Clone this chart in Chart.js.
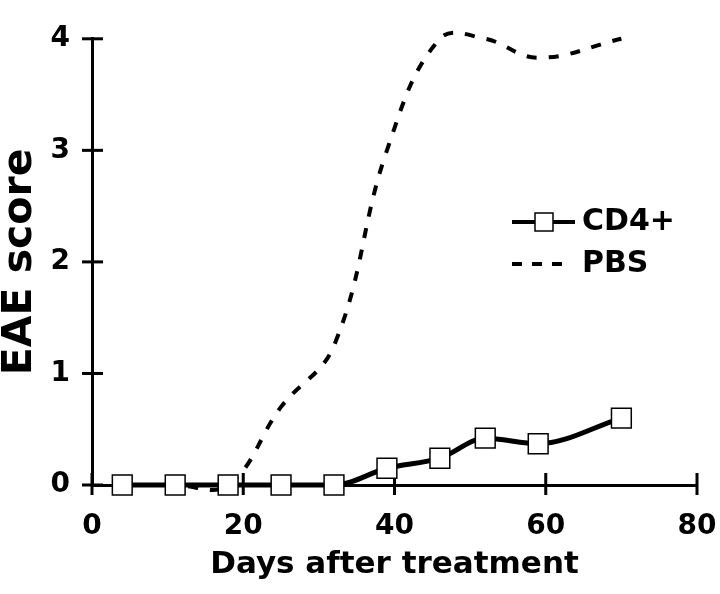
<!DOCTYPE html>
<html>
<head>
<meta charset="utf-8">
<script src="https://cdn.jsdelivr.net/npm/chart.js"></script>
<style>
  body { margin: 0; background: #fff; }
</style>
</head>
<body>
<canvas id="myChart" width="720" height="594"></canvas>
<script>
// days after treatment
const days = [4, 11, 18, 25, 32, 39, 46, 52, 59, 70];
const cd4 = [0, 0, 0, 0, 0, 0.15, 0.24, 0.42, 0.37, 0.6];
const pbs = [0, 0, 0, 0.7, 1.25, 3.0, 4.0, 4.0, 3.83, 4.0];
const xTicks = [0, 20, 40, 60, 80];
const yTicks = [0, 1, 2, 3, 4];

const FONT = "'DejaVu Sans', 'Liberation Sans', Arial, sans-serif";

// ticks that cross the axis line on both sides
const crossTicks = {
    id: 'crossTicks',
    beforeDatasetsDraw(chart) {
        const c = chart.ctx;
        const xs = chart.scales.x, ys = chart.scales.y;
        c.save();
        c.strokeStyle = '#000';
        c.lineWidth = 3;
        yTicks.forEach(v => {
            const py = ys.getPixelForValue(v);
            c.beginPath();
            c.moveTo(xs.left - 10, py);
            c.lineTo(xs.left + 11, py);
            c.stroke();
        });
        xTicks.forEach(v => {
            const px = xs.getPixelForValue(v);
            c.beginPath();
            c.moveTo(px, ys.bottom - 12);
            c.lineTo(px, ys.bottom + 10);
            c.stroke();
        });
        c.restore();
    }
};

// legend drawn inside the plot, like the original figure
const innerLegend = {
    id: 'innerLegend',
    afterDraw(chart) {
        const c = chart.ctx;
        c.save();
        c.strokeStyle = '#000';
        c.lineWidth = 4;
        // CD4+
        c.beginPath();
        c.moveTo(512, 222);
        c.lineTo(575, 222);
        c.stroke();
        c.fillStyle = '#fff';
        c.lineWidth = 1.5;
        c.fillRect(535, 213, 18, 18);
        c.strokeRect(535, 213, 18, 18);
        // PBS
        c.lineWidth = 4;
        c.setLineDash([10, 10]);
        c.beginPath();
        c.moveTo(512, 264);
        c.lineTo(572, 264);
        c.stroke();
        c.setLineDash([]);
        c.fillStyle = '#000';
        c.font = "bold 30px " + FONT;
        c.textBaseline = 'middle';
        c.textAlign = 'left';
        c.fillText(chart.data.datasets[0].label, 582, 222);
        c.fillText(chart.data.datasets[1].label, 582, 264);
        c.restore();
    }
};

const ctx = document.getElementById('myChart').getContext('2d');
const myChart = new Chart(ctx, {
    type: 'line',
    data: {
        datasets: [{
            label: 'CD4+',
            data: days.map((d, i) => ({x: d, y: cd4[i]})),
            borderColor: '#000',
            borderWidth: 5,
            cubicInterpolationMode: 'monotone',
            pointStyle: 'rect',
            pointRadius: 14,
            pointBackgroundColor: '#fff',
            pointBorderColor: '#000',
            pointBorderWidth: 1.5,
            clip: false
        },
        {
            label: 'PBS',
            data: days.map((d, i) => ({x: d, y: pbs[i]})),
            borderColor: '#000',
            borderWidth: 4,
            borderDash: [10, 12],
            tension: 0.4,
            pointRadius: 0,
            clip: false
        }]
    },
    options: {
        responsive: false,
        animation: false,
        elements: { line: { capBezierPoints: false } },
        layout: { padding: { top: 22, right: 0, left: 0, bottom: 0 } },
        plugins: {
            legend: { display: false },
            tooltip: { enabled: false }
        },
        scales: {
            x: {
                type: 'linear',
                min: 0,
                max: 80,
                afterBuildTicks: s => { s.ticks = xTicks.map(v => ({value: v})); },
                afterFit: s => {
                    s.height = 109;
                    s.paddingLeft = 0;
                    s.paddingRight = 23;
                },
                grid: { display: false, drawTicks: false },
                border: { display: true, color: '#000', width: 3 },
                ticks: {
                    color: '#000',
                    padding: 25,
                    maxRotation: 0,
                    font: { family: FONT, size: 28, weight: 'bold' }
                },
                title: {
                    display: true,
                    text: 'Days after treatment',
                    color: '#000',
                    padding: { bottom: 10 },
                    font: { family: FONT, size: 31, weight: 'bold' }
                }
            },
            y: {
                min: 0,
                max: 4,
                afterBuildTicks: s => { s.ticks = yTicks.map(v => ({value: v})); },
                afterFit: s => { s.width = 92; },
                grid: { display: false, drawTicks: false },
                border: { display: true, color: '#000', width: 3 },
                ticks: {
                    color: '#000',
                    padding: 22,
                    font: { family: FONT, size: 28, weight: 'bold' }
                },
                title: {
                    display: true,
                    text: 'EAE score',
                    color: '#000',
                    padding: { top: 0 },
                    font: { family: FONT, size: 41, weight: 'bold', lineHeight: 1 }
                }
            }
        }
    },
    plugins: [crossTicks, innerLegend]
});
</script>
</body>
</html>
